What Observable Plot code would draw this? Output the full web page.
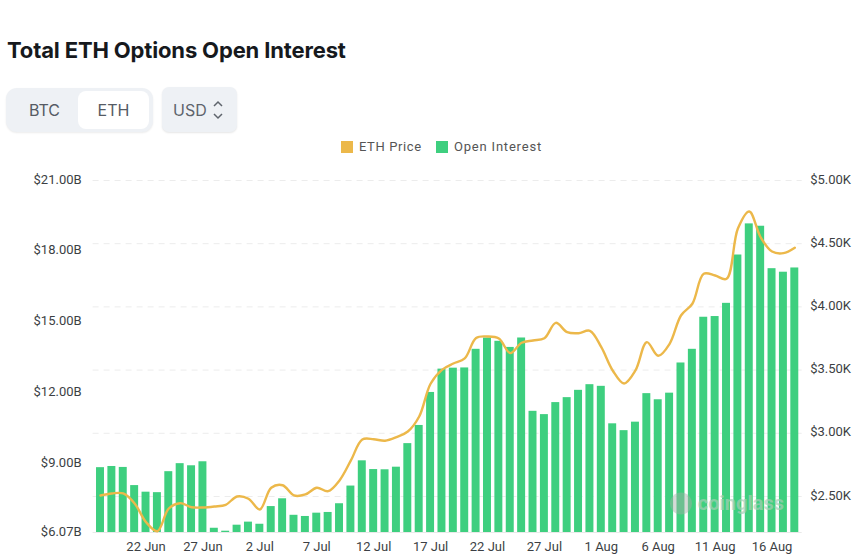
<!DOCTYPE html>
<html>
<head>
<meta charset="utf-8">
<script src="https://cdn.jsdelivr.net/npm/d3@7"></script>
<script src="https://cdn.jsdelivr.net/npm/@observablehq/plot@0.6"></script>
<style>
  html, body { margin: 0; padding: 0; background: #fff; }
  body { width: 860px; height: 559px; overflow: hidden; position: relative; font-family: Inter, "Noto Sans", sans-serif; }
  h1 { position: absolute; left: 7px; top: 36px; margin: 0; font: 700 22px/28px Inter, "Noto Sans", sans-serif; letter-spacing: -0.15px; color: #16191d; }
  .seg { position: absolute; left: 6px; top: 88px; width: 147px; height: 44px; background: #eef1f5; border-radius: 11px; box-shadow: 0 1px 2px rgba(0,0,0,.08); }
  .seg span { position: absolute; top: 3px; height: 38px; line-height: 38px; text-align: center; font-size: 16px; color: #555b64; }
  .seg .a { left: 0; width: 77px; }
  .seg .b { left: 72px; width: 71px; background: #fff; border-radius: 8px; }
  .usd { position: absolute; left: 162px; top: 87px; width: 75px; height: 45px; line-height: 46px; background: #eef1f5; border-radius: 7px; box-shadow: 0 1px 2px rgba(0,0,0,.1); font-size: 16px; color: #5e646c; }
  .usd b { position: absolute; left: 11px; font-weight: 400; }
  .usd svg { position: absolute; left: 50px; top: 13px; }
  .legend { position: absolute; top: 138px; left: 0; height: 18px; font: 13px/18px Roboto, sans-serif; letter-spacing: .6px; color: #555; }
  .legend i { position: absolute; top: 3px; width: 12px; height: 12px; }
  .legend span { position: absolute; top: 0; white-space: nowrap; }
  #chart { position: absolute; left: 0; top: 165px; }
</style>
</head>
<body>
<h1>Total ETH Options Open Interest</h1>
<div class="seg"><span class="a">BTC</span><span class="b">ETH</span></div>
<div class="usd"><b>USD</b><svg width="12" height="20" viewBox="0 0 12 20" fill="none" stroke="#5e646c" stroke-width="1.5"><path d="M2 6l4-4 4 4M2 14l4 4 4-4"/></svg></div>
<div class="legend">
  <i style="left:341px;background:#ecb84a"></i><span style="left:359px">ETH Price</span>
  <i style="left:436px;background:#3ecf7f"></i><span style="left:454px;letter-spacing:.8px">Open Interest</span>
</div>
<div id="chart"></div>
<script>
const openInterest = [8.82,8.87,8.83,8.06,7.78,7.76,8.65,8.99,8.90,9.07,
  6.25,6.125,6.38,6.51,6.42,7.17,7.50,6.80,6.75,6.89,
  6.92,7.29,8.04,9.11,8.74,8.73,8.84,9.84,10.61,12.01,
  13.00,13.04,13.05,13.84,14.32,14.18,13.92,14.32,11.21,11.07,
  11.58,11.79,12.10,12.34,12.27,10.68,10.39,10.75,11.96,11.70,
  11.98,13.26,13.84,15.20,15.23,15.79,17.84,19.16,19.06,17.26,
  17.11,17.29];
const ethPrice = [2.508,2.524,2.524,2.445,2.297,2.225,2.405,2.447,2.415,2.413,
  2.421,2.434,2.5,2.482,2.397,2.569,2.589,2.508,2.516,2.569,
  2.542,2.627,2.785,2.951,2.953,2.941,2.969,3.014,3.133,3.392,
  3.502,3.552,3.592,3.754,3.766,3.75,3.634,3.716,3.734,3.752,
  3.874,3.8,3.792,3.811,3.681,3.497,3.394,3.497,3.721,3.613,
  3.708,3.932,4.025,4.262,4.248,4.222,4.62,4.755,4.551,4.438,
  4.425,4.468];
const leftDomain = [6.07, 21];
const rightDomain = [2.215, 5];
const leftTicks = [6.07, 9, 12, 15, 18, 21];
const rightTicks = [2.5, 3, 3.5, 4, 4.5, 5];
const xTickLabels = ["22 Jun","27 Jun","2 Jul","7 Jul","12 Jul","17 Jul","22 Jul","27 Jul","1 Aug","6 Aug","11 Aug","16 Aug"];
const days = d3.utcDay.range(new Date(Date.UTC(2025,5,18)), new Date(Date.UTC(2025,7,19))).map(d3.utcFormat("%-d %b"));

const priceToLeft = d3.scaleLinear().domain(rightDomain).range(leftDomain);
const rows = days.map((day, i) => ({day, oi: openInterest[i], price: priceToLeft(ethPrice[i])}));
const font = "Roboto, sans-serif";

const plot = Plot.plot({
  width: 860, height: 394,
  marginLeft: 92.6, marginRight: 58.3, marginTop: 15, marginBottom: 27,
  style: {background: "transparent", fontFamily: font, fontSize: "13px", color: "#3c3f44"},
  x: {type: "band", domain: days, padding: 0.3, round: false, label: null},
  y: {domain: leftDomain, label: null},
  marks: [
    Plot.ruleY(rightTicks.map(priceToLeft), {stroke: "#ececec", strokeDasharray: "6,5", strokeWidth: 1}),
    Plot.ruleY([leftDomain[0]], {stroke: "#e9e9e9"}),
    Plot.barY(rows, {x: "day", y1: () => leftDomain[0], y2: "oi", fill: "#3ecf7f"}),
    Plot.line(rows, {x: "day", y: "price", stroke: "#ecb84a", strokeWidth: 2.4, curve: "catmull-rom"}),
    Plot.axisX({ticks: xTickLabels, tickSize: 0, tickPadding: 9, label: null, fontSize: 13, letterSpacing: 0.6}),
    Plot.axisY({anchor: "left", ticks: leftTicks, tickSize: 0, tickPadding: 11.5, label: null, fontSize: 13, letterSpacing: 0.7, dy: -1,
      tickFormat: d => "$" + d.toFixed(2) + "B"}),
    Plot.axisY({anchor: "right", ticks: rightTicks.map(priceToLeft), tickSize: 0, tickPadding: 8, label: null, fontSize: 13, letterSpacing: 0.6, dy: -1,
      tickFormat: d => "$" + priceToLeft.invert(d).toFixed(2) + "K"}),
    Plot.dot(["logo"], {x: () => "8 Aug", y: () => 7.3, r: 11, fill: "#a3aca7", fillOpacity: 0.45}),
    Plot.text(["coinglass"], {x: () => "13 Aug", y: () => 7.3, dx: 3, fontSize: 20, fontWeight: 700, fill: "#a7cdb6", fillOpacity: 0.7})
  ]
});
document.getElementById("chart").append(plot);
</script>
</body>
</html>
